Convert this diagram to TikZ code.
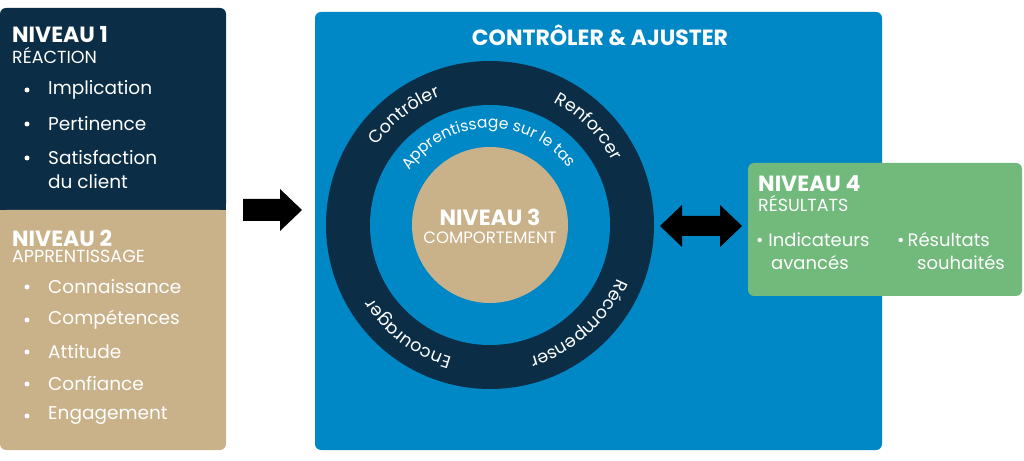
\documentclass[tikz,border=0pt]{standalone}
\usepackage{fontspec}
\setmainfont{Poppins}
\usetikzlibrary{decorations.text}
\definecolor{navy}{HTML}{0B2D45}
\definecolor{tan}{HTML}{C9B28A}
\definecolor{blueb}{HTML}{0087C6}
\definecolor{greenb}{HTML}{72B97C}
\newcommand{\fs}[1]{\fontsize{#1}{#1}\selectfont}
\begin{document}
\begin{tikzpicture}[x=1pt,y=1pt,
  head/.style={anchor=west,text=white,font=\fs{22}\bfseries,inner sep=0},
  sub/.style={anchor=west,text=white,font=\fs{17.5},inner sep=0},
  item/.style={anchor=west,text=white,font=\fs{18.5},inner sep=0},
  dot/.style={circle,fill=white,inner sep=0,minimum size=5pt},
  ringtxt/.style={decorate,decoration={text along path,text align=center,text color=white,text={|\fs{17.5}|#1}}}]
\useasboundingbox (0,0) rectangle (1024,460);
% left panel
\fill[navy,rounded corners=6] (0,250) -- (0,452) -- (226,452) -- (226,250) -- cycle;
\fill[navy] (0,250) rectangle (226,260);
\fill[tan,rounded corners=6] (0,250) -- (0,10) -- (226,10) -- (226,250) -- cycle;
\fill[tan] (0,240) rectangle (226,250);
\node[head] (n1) at (12,425) {NIVEAU 1};
\node[sub] (r1) at (12,405) {RÉACTION};
\foreach \t/\y [count=\i] in {Implication/370,Pertinence/336,Satisfaction/302}{
  \node[dot] (d1\i) at (27,\y) {};
  \node[item] (i1\i) at (48,\y) {\t};}
\node[item] (i14) at (48,278) {du client};
\node[head] (n2) at (12,222) {NIVEAU 2};
\node[sub] (r2) at (12,204) {APPRENTISSAGE};
\foreach \t/\y [count=\i] in {Connaissance/173,Compétences/140,Attitude/108,Confiance/76,Engagement/44}{
  \node[dot] (d2\i) at (27,\y) {};
  \node[item] (i2\i) at (48,\y) {\t};}
% arrow
\coordinate (a0) at (243,250);
\fill[black] (a0) ++(0,-11) -- ++(37,0) -- ++(0,-10) -- ++(22,21) -- ++(-22,21) -- ++(0,-10) -- ++(-37,0) -- cycle;
% blue box
\fill[blueb,rounded corners=6] (315,10) rectangle (882,448);
\node[head,anchor=center,font=\fs{22}\bfseries] (t) at (600,425) {CONTRÔLER \& AJUSTER};
\coordinate (c) at (490,235);
\fill[navy] (c) circle[radius=164];
\fill[blueb] (c) circle[radius=120];
\fill[tan] (c) circle[radius=78];
\node[head,anchor=center] (n3) at (490,243) {NIVEAU 3};
\node[sub,anchor=center,font=\fs{16.5}] (r3) at (490,222) {COMPORTEMENT};
\path[ringtxt=Contrôler] (c) ++(150:138) arc[start angle=150,end angle=106,radius=138];
\path[ringtxt=Renforcer] (c) ++(68:138) arc[start angle=68,end angle=22,radius=138];
\path[ringtxt=Récompenser] (c) ++(-18:138) arc[start angle=-18,end angle=-78,radius=138];
\path[ringtxt=Encourager] (c) ++(-102:138) arc[start angle=-102,end angle=-152,radius=138];
\path[decorate,decoration={text along path,text align=center,text color=white,text={|\fs{15.5}|Apprentissage sur le tas}}] (c) ++(152:97) arc[start angle=152,end angle=30,radius=97];
% double arrow
\coordinate (b0) at (660,234);
\fill[black] (b0) -- ++(22,21) -- ++(0,-11) -- ++(38,0) -- ++(0,11) -- ++(22,-21) -- ++(-22,-21) -- ++(0,11) -- ++(-38,0) -- ++(0,-11) -- cycle;
% green
\fill[greenb,rounded corners=6] (748,164) rectangle (1022,297);
\node[head] (n4) at (758,276) {NIVEAU 4};
\node[sub] (r4) at (758,257) {RÉSULTATS};
\node[item,font=\fs{18}] (g1) at (756,220) {• Indicateurs};
\node[item,font=\fs{18}] (g2) at (771,197) {avancés};
\node[item,font=\fs{18}] (g3) at (897,220) {•\,Résultats};
\node[item,font=\fs{18}] (g4) at (917,197) {souhaités};
\end{tikzpicture}
\end{document}
